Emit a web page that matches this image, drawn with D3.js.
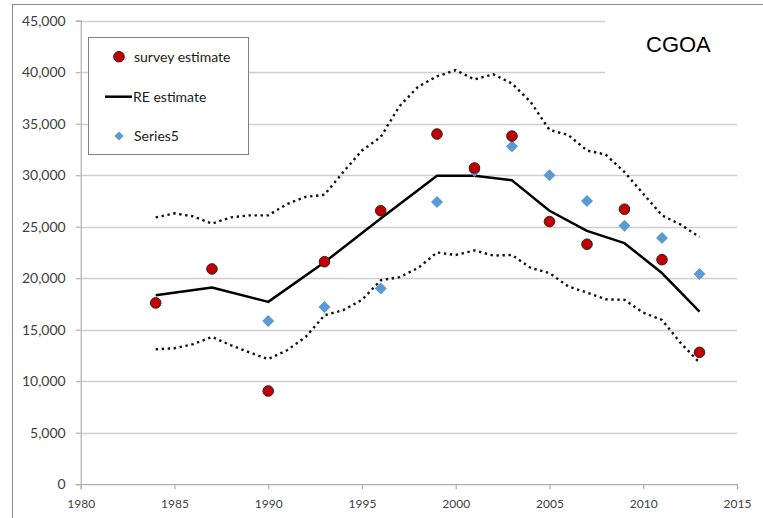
<!DOCTYPE html>
<html><head><meta charset="utf-8">
<script src="https://cdn.jsdelivr.net/npm/d3@7"></script>
<style>body{margin:0;background:#fff}svg{display:block}</style>
</head><body>
<svg id="c" width="763" height="518"></svg>
<script>
const surveyYears = [1984,1987,1990,1993,1996,1999,2001,2003,2005,2007,2009,2011,2013];
const surveyEstimate = [17600,20900,9050,21600,26550,34000,30700,33800,25500,23300,26700,21800,12800];
const reEstimate = [18350,19100,17700,21550,25800,29950,29950,29500,26550,24600,23400,20500,16750];
const series5Years = [1990,1993,1996,1999,2001,2003,2005,2007,2009,2011,2013];
const series5 = [15850,17200,19000,27400,30400,32800,30000,27500,25100,23900,20400];
const ciYears = [1984,1985,1986,1987,1988,1989,1990,1991,1992,1993,1994,1995,1996,1997,1998,1999,2000,2001,2002,2003,2004,2005,2006,2007,2008,2009,2010,2011,2012,2013];
const upperCI = [25900,26300,26000,25300,25900,26100,26100,27200,27900,28100,30300,32400,33700,36700,38600,39600,40200,39300,39800,38900,37100,34400,33900,32400,32000,30300,28200,26100,25200,24000];
const lowerCI = [13100,13200,13600,14300,13500,12800,12150,13000,14300,16400,16900,17900,19800,20100,21000,22500,22250,22700,22200,22250,21000,20500,19200,18600,17950,17900,16650,15950,13700,11800];
const yTicks = [0,5000,10000,15000,20000,25000,30000,35000,40000,45000];
const xTicks = [1980,1985,1990,1995,2000,2005,2010,2015];
const legendLabels = ["survey estimate","RE estimate","Series5"];
const chartLabel = "CGOA";

const svg = d3.select("#c");
const x = d3.scaleLinear().domain([1980,2015]).range([80.7,737]);
const y = d3.scaleLinear().domain([0,45000]).range([484.2,20.7]);
const font = "Lato, 'Open Sans', sans-serif";

// outer border
svg.append("rect").attr("x",12.5).attr("y",4.5).attr("width",800).attr("height",600)
  .attr("fill","none").attr("stroke","#8a8a8a").attr("stroke-width",1);

// gridlines
svg.append("g").selectAll("line").data(yTicks.filter(d=>d>0)).join("line")
  .attr("x1",x(1980)).attr("x2",x(2015)).attr("y1",d=>Math.round(y(d))+0.5).attr("y2",d=>Math.round(y(d))+0.5)
  .attr("stroke","#cfcfcf").attr("stroke-width",1.3);

// label box covering grid
svg.append("rect").attr("x",605).attr("y",10).attr("width",140).attr("height",80).attr("fill","#fff");

// axes
const yAxis = svg.append("g").attr("transform",`translate(${x(1980)},0)`)
  .call(d3.axisLeft(y).tickValues(yTicks).tickSize(5).tickPadding(10).tickFormat(d3.format(",")));
const xAxis = svg.append("g").attr("transform",`translate(0,${y(0)})`)
  .call(d3.axisBottom(x).tickValues(xTicks).tickSize(5).tickPadding(10).tickFormat(d3.format("d")));
[yAxis,xAxis].forEach(g=>{
  g.select(".domain").attr("stroke","#b0b0b0").attr("stroke-width",1.2);
  g.selectAll(".tick line").attr("stroke","#b0b0b0").attr("stroke-width",1.2);
  g.selectAll("text").attr("fill","#404040").attr("font-family",font);
});
yAxis.selectAll("text").attr("font-size",14);
xAxis.selectAll("text").attr("font-size",12);

// CI dotted lines
const ciLine = v => d3.line().x((d,i)=>x(ciYears[i])).y(d=>y(d))(v);
[upperCI,lowerCI].forEach(v=>{
  svg.append("path").attr("d",ciLine(v)).attr("fill","none").attr("stroke","#111")
    .attr("stroke-width",2.4).attr("stroke-dasharray","2.4,3.6");
});

// RE line
svg.append("path").attr("d",d3.line().x((d,i)=>x(surveyYears[i])).y(d=>y(d))(reEstimate))
  .attr("fill","none").attr("stroke","#000").attr("stroke-width",2.5).attr("stroke-linejoin","round");

// Series5 diamonds
const diamond = "M0,-6L6,0L0,6L-6,0Z";
svg.append("g").selectAll("path").data(series5).join("path")
  .attr("d",diamond).attr("transform",(d,i)=>`translate(${x(series5Years[i])},${y(d)})`)
  .attr("fill","#5B9BD5");

// survey circles
svg.append("g").selectAll("circle").data(surveyEstimate).join("circle")
  .attr("cx",(d,i)=>x(surveyYears[i])).attr("cy",d=>y(d)).attr("r",5.3)
  .attr("fill","#C00000").attr("stroke","#3a1a1a").attr("stroke-width",1);

// legend
const lg = svg.append("g");
lg.append("rect").attr("x",88.5).attr("y",37.5).attr("width",160).attr("height",117)
  .attr("fill","#fff").attr("stroke","#7f7f7f").attr("stroke-width",1);
lg.append("circle").attr("cx",119).attr("cy",56.7).attr("r",5.3).attr("fill","#C00000").attr("stroke","#3a1a1a");
lg.append("line").attr("x1",105).attr("x2",132).attr("y1",96.7).attr("y2",96.7).attr("stroke","#000").attr("stroke-width",2.5);
lg.append("path").attr("d","M0,-4.5L4.5,0L0,4.5L-4.5,0Z").attr("transform","translate(119,136)").attr("fill","#5B9BD5");
lg.selectAll("text").data(legendLabels).join("text")
  .attr("x",(d,i)=>i===1?133:134).attr("y",(d,i)=>[56.7,96.7,136][i]).attr("dy","0.35em")
  .attr("font-family",font).attr("font-size",14).attr("fill","#1a1a1a").text(d=>d);

// chart label
svg.append("text").attr("x",646).attr("y",52.3).attr("font-family","'Liberation Sans', Arial, sans-serif")
  .attr("font-size",22).attr("fill","#000").text(chartLabel);
</script>
</body></html>
